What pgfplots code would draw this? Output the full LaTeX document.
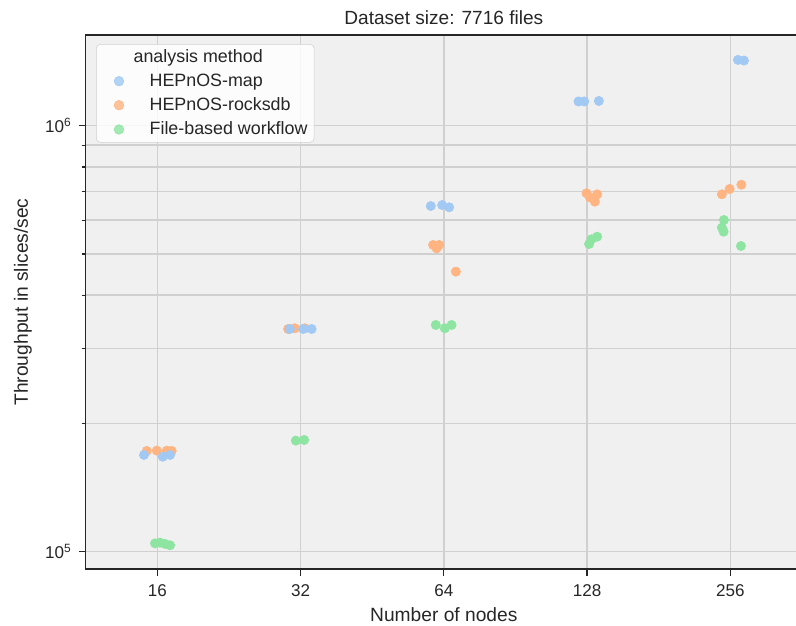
\documentclass[border=0pt]{standalone}
\usepackage{fontspec}
\setmainfont{Liberation Sans}
\usepackage{pgfplots}
\pgfplotsset{compat=1.18}
\definecolor{cMap}{HTML}{A1C9F4}
\definecolor{cRocks}{HTML}{FFB482}
\definecolor{cFile}{HTML}{8DE5A1}
\definecolor{cBg}{HTML}{F0F0F0}
\definecolor{cGrid}{HTML}{D0D0D0}
\definecolor{cTxt}{HTML}{262626}

\begin{document}
\begin{tikzpicture}
\begin{axis}[
  scale only axis, width=537.2pt, height=400.5pt,
  xmin=-0.5, xmax=4.5, ymode=log, ymin=91080, ymax=1633000,
  axis background/.style={fill=cBg},
  axis line style={cTxt, line width=1pt},
  xtick={0,1,2,3,4}, xticklabels={16,32,64,128,256},
  ytick={1e5,1e6}, yticklabels={10\textsuperscript{5},10\textsuperscript{6}},
  minor ytick={2e5,3e5,4e5,5e5,6e5,7e5,8e5,9e5},
  xtick pos=left, ytick pos=left,
  tick align=outside, major tick length=5.25pt, minor tick length=3pt,
  tick style={cTxt, line width=0.9pt},
  grid=both, major grid style={cGrid, line width=1.1pt}, minor grid style={cGrid, line width=1.1pt},
  tick label style={font=\fontsize{12.8}{14}\selectfont, text=cTxt},
  xticklabel shift=3pt, yticklabel shift=2pt,
  label style={font=\fontsize{14.4}{16}\selectfont, text=cTxt},
  xlabel={Number of nodes}, ylabel={Throughput in slices/sec},
  xlabel shift=1pt, ylabel shift=3pt,
  title={Dataset size: 7716 files},
  title style={font=\fontsize{14.3}{16}\selectfont, text=cTxt, at={(axis description cs:0.5,1)}, yshift=-2pt},
  legend cell align=left,
  legend image code/.code={\path[draw=none] (0pt,0pt) -- (35pt,0pt); \draw[#1] plot coordinates {(14pt,0pt)};},
  legend style={at={(0.0144,0.983)}, anchor=north west, fill=white, fill opacity=0.8, text opacity=1,
    draw=cGrid, rounded corners=3pt, font=\fontsize{13.4}{15}\selectfont, text=cTxt, row sep=3pt},
]
\addlegendimage{empty legend}\addlegendentry{\hspace{-12pt}analysis method\rule[-6pt]{0pt}{6pt}}
\addlegendimage{only marks, mark=*, mark size=3.6pt, color=cMap}\addlegendentry{HEPnOS-map}
\addlegendimage{only marks, mark=*, mark size=3.6pt, color=cRocks}\addlegendentry{HEPnOS-rocksdb}
\addlegendimage{only marks, mark=*, mark size=3.6pt, color=cFile}\addlegendentry{File-based workflow}

% HEPnOS-rocksdb
\addplot[forget plot, only marks, mark=*, mark size=3.5pt, color=cRocks] coordinates {
  (-0.074,172400) (-0.004,172700) (0.066,172700) (0.100,172400)
  (0.913,333300) (0.960,334500) (1.030,334500)
  (1.925,524800) (1.949,515500) (1.967,524800) (2.084,454300)
  (2.996,694000) (3.070,690200) (3.054,663300) (3.019,679200)
  (3.941,690200) (3.995,710300) (4.077,727000)};
% HEPnOS-map
\addplot[forget plot, only marks, mark=*, mark size=3.5pt, color=cMap] coordinates {
  (-0.093,168700) (0.038,167100) (0.089,168700)
  (0.925,333300) (1.018,333300) (1.077,333300)
  (1.909,647800) (1.988,651300) (2.037,643300)
  (2.940,1140000) (2.980,1140000) (3.082,1143000)
  (4.053,1427000) (4.095,1422000)};
% File-based workflow
\addplot[forget plot, only marks, mark=*, mark size=3.5pt, color=cFile] coordinates {
  (-0.016,104600) (0.019,105000) (0.054,104300) (0.089,103500)
  (0.967,182300) (1.025,182900)
  (1.944,340600) (2.007,334500) (2.054,340600)
  (3.070,548800) (3.031,541200) (3.014,527600)
  (3.955,600600) (3.941,576200) (3.953,563900) (4.074,521900)};
\end{axis}
\pgfresetboundingbox
\useasboundingbox (-64.275pt,-42pt) rectangle (532.725pt,426.75pt);
\end{tikzpicture}
\end{document}
